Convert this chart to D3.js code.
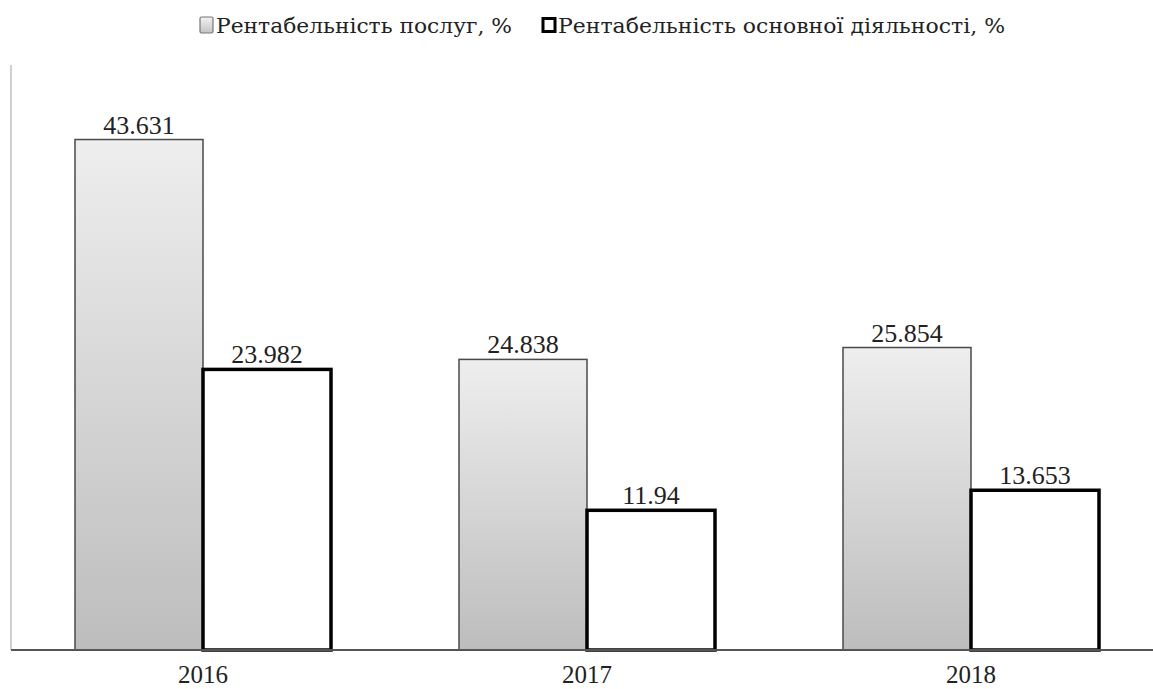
<!DOCTYPE html>
<html><head><meta charset="utf-8">
<script src="https://cdn.jsdelivr.net/npm/d3@7"></script>
<style>body{margin:0;background:#fff}svg{display:block}</style>
</head><body>
<svg id="c" width="1153" height="689"></svg>
<script>
const categories = ["2016", "2017", "2018"];
const seriesNames = ["Рентабельність послуг, %", "Рентабельність основної діяльності, %"];
const services = [43.631, 24.838, 25.854];
const core = [23.982, 11.94, 13.653];
const yDomain = [0, 50];

(function(){
const svg = d3.select("#c");
const font = "'Liberation Serif', 'DejaVu Serif', 'Times New Roman', serif";
const legFont = "'DejaVu Serif', 'Liberation Serif', serif";
const mLeft = 11, mRight = 1163, mTop = 65, mBottom = 650;

const defs = svg.append("defs");
const g = defs.append("linearGradient").attr("id","gr").attr("x1",0).attr("y1",0).attr("x2",0).attr("y2",1);
g.append("stop").attr("offset","0%").attr("stop-color","#eeeeee");
g.append("stop").attr("offset","100%").attr("stop-color","#bdbdbd");
const lg = defs.append("linearGradient").attr("id","lg").attr("x1",0).attr("y1",0).attr("x2",0).attr("y2",1);
lg.append("stop").attr("offset","0%").attr("stop-color","#f2f2f2");
lg.append("stop").attr("offset","100%").attr("stop-color","#c4c4c4");

const x0 = d3.scaleBand().domain(categories).range([mLeft, mRight]).paddingInner(1/3).paddingOuter(1/6);
const x1 = d3.scaleBand().domain([0,1]).range([0, x0.bandwidth()]);
const y = d3.scaleLinear().domain(yDomain).range([mBottom, mTop]);

svg.append("line").attr("x1",mLeft).attr("x2",mLeft).attr("y1",mTop).attr("y2",mBottom)
  .attr("stroke","#d0d0d0").attr("stroke-width",2);

const data = categories.map((c,i)=>({c, vals:[services[i], core[i]]}));
const grp = svg.selectAll("g.cat").data(data).join("g").attr("class","cat").attr("transform", d=>`translate(${x0(d.c)},0)`);

grp.append("rect")
  .attr("x", x1(0)).attr("width", x1.bandwidth())
  .attr("y", d=>y(d.vals[0])).attr("height", d=>y(0)-y(d.vals[0]))
  .attr("fill","url(#gr)").attr("stroke","#4a4a4a").attr("stroke-width",1.5);
grp.append("rect")
  .attr("x", x1(1)).attr("width", x1.bandwidth())
  .attr("y", d=>y(d.vals[1])).attr("height", d=>y(0)-y(d.vals[1]))
  .attr("fill","#fff").attr("stroke","#000").attr("stroke-width",3.5);

[0,1].forEach(k=>{
  grp.append("text")
    .attr("x", x1(k)+x1.bandwidth()/2).attr("y", d=>y(d.vals[k])-6)
    .attr("text-anchor","middle").attr("font-family",font).attr("font-size",26).attr("fill","#222")
    .text(d=>String(d.vals[k]));
});

svg.append("line").attr("x1",mLeft).attr("x2",1153).attr("y1",mBottom).attr("y2",mBottom)
  .attr("stroke","#555").attr("stroke-width",2);

const xa = svg.append("g").attr("transform",`translate(0,${mBottom})`).call(d3.axisBottom(x0).tickSize(0).tickPadding(15));
xa.select(".domain").remove();
xa.selectAll("text").attr("font-family",font).attr("font-size",25).attr("fill","#222");

const leg = svg.append("g");
const legX = [199, 541];
const legW = [296, 447];
seriesNames.forEach((n,i)=>{
  const gg = leg.append("g").attr("transform",`translate(${legX[i]},17)`);
  if(i===0){
    gg.append("rect").attr("x",1).attr("y",0).attr("width",13).attr("height",16).attr("rx",1.5)
      .attr("fill","url(#lg)").attr("stroke","#777").attr("stroke-width",1.2);
  } else {
    gg.append("rect").attr("x",2).attr("y",1.5).attr("width",12).attr("height",13)
      .attr("fill","#fff").attr("stroke","#000").attr("stroke-width",3);
  }
  gg.append("text").attr("x",17).attr("y",16).attr("font-family",legFont).attr("font-size",21).attr("fill","#222")
    .attr("textLength", legW[i]).attr("lengthAdjust","spacingAndGlyphs").text(n);
});
})();
</script>
</body></html>
